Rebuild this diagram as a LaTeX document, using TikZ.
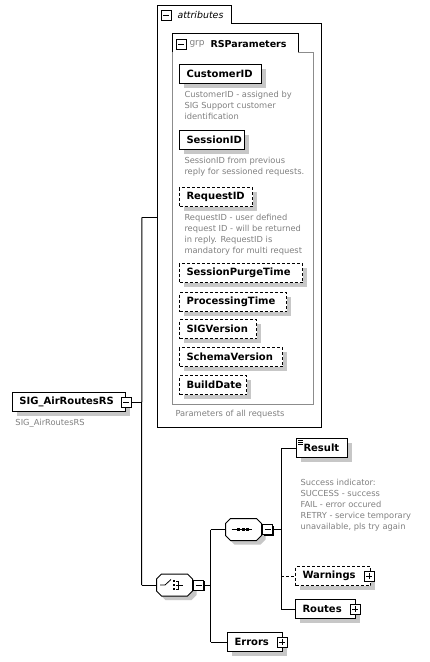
\documentclass[tikz,border=0pt]{standalone}
\usepackage{fontspec}
\setmainfont{DejaVu Sans}
\usetikzlibrary{shadows}
\begin{document}
\begin{tikzpicture}[x=1pt,y=-1pt,line width=1pt,
  elem/.style={draw, line width=1pt, fill=white, font=\bfseries\fontsize{10}{12}\selectfont,
    inner xsep=7pt, inner ysep=0pt, minimum height=19pt, align=left, anchor=north west,
    drop shadow={shadow xshift=4pt,shadow yshift=-4pt,fill=black!22,opacity=1}},
  opt/.style={dash pattern=on 3pt off 2pt},
  desc/.style={font=\fontsize{8.3}{10.8}\selectfont, text=black!50, align=left, anchor=north west, inner sep=0pt},
  pmbox/.style={draw, line width=1pt, fill=white, minimum size=10pt, inner sep=0pt},
  pmshadow/.style={drop shadow={shadow xshift=1pt, shadow yshift=-1pt, fill=black, opacity=1}},
  minusmark/.style={path picture={\draw[line width=1pt] ([xshift=2pt]path picture bounding box.west) -- ([xshift=-2pt]path picture bounding box.east);}},
  plusmark/.style={path picture={\draw[line width=1pt] ([xshift=2pt]path picture bounding box.west) -- ([xshift=-2pt]path picture bounding box.east);
     \draw[line width=1pt] ([yshift=-2pt]path picture bounding box.north) -- ([yshift=2pt]path picture bounding box.south);}},
  octa/.style={draw=none, minimum width=35pt, minimum height=21pt, inner sep=0pt}
]
\def\octpath#1{([xshift=5pt]#1.north west) -- ([xshift=-5pt]#1.north east) -- ([yshift=-5pt]#1.north east) -- ([yshift=5pt]#1.south east) -- ([xshift=-5pt]#1.south east) -- ([xshift=5pt]#1.south west) -- ([yshift=5pt]#1.south west) -- ([yshift=-5pt]#1.north west) -- cycle}
\useasboundingbox[fill=white] (0,0) rectangle (430,662);

% attributes container
\draw (157,5) -- (231,5) -- (231,23) -- (321,23) -- (321,427) -- (157,427) -- cycle;
\node[pmbox, minusmark] (attrpm) at (166,15) {};
\node[anchor=west, inner sep=0pt, font=\itshape\fontsize{9.4}{11}\selectfont] (attrlbl) at (177,14.5) {attributes};

% group container
\draw[black!45] (298,52) -- (313,52) -- (313,404) -- (172,404) -- (172,52);
\draw (172,52) -- (172,33) -- (298,33) -- (298,52);
\node[pmbox, minusmark] (grppm) at (181,44) {};
\node[anchor=west, inner sep=0pt, text=black!50, font=\fontsize{9}{11}\selectfont] (grplbl) at (189,44) {grp};
\node[anchor=west, inner sep=0pt, font=\bfseries\fontsize{9.5}{11}\selectfont] (grpname) at (210,44) {RSParameters};

% attribute elements
\node[elem, text width=68pt] (cust) at (179,64) {CustomerID};
\node[desc] (custd) at (184,91) {CustomerID - assigned by\\SIG Support customer\\identification};
\node[elem, text width=51pt] (sess) at (179,130) {SessionID};
\node[desc] (sessd) at (184,157) {SessionID from previous\\reply for sessioned requests.};
\node[elem, opt, text width=59pt] (req) at (179,187) {RequestID};
\node[desc] (reqd) at (184,214) {RequestID - user defined\\request ID - will be returned\\in reply. RequestID is\\mandatory for multi request};
\node[elem, opt, text width=109pt] (spt) at (179,263) {SessionPurgeTime};
\node[elem, opt, text width=93pt] (proc) at (179,292) {ProcessingTime};
\node[elem, opt, text width=63pt] (sigv) at (179,319) {SIGVersion};
\node[elem, opt, text width=89pt] (schv) at (179,347) {SchemaVersion};
\node[elem, opt, text width=53pt] (bdate) at (179,375) {BuildDate};
\node[desc] (paramd) at (175,410) {Parameters of all requests};

% root
\node[elem, text width=99pt] (root) at (12,392) {SIG\_AirRoutesRS};
\node[pmbox, pmshadow, minusmark] (rootpm) at (root.east) {};
\node[desc] (rootd) at (15,419) {SIG\_AirRoutesRS};

% choice & sequence
\node[octa] (choice) at (174.5,585) {};
\fill[black!22, transform canvas={shift={(4pt,-4pt)}}] \octpath{choice};
\draw[fill=white] \octpath{choice};
\node[pmbox, pmshadow, minusmark, anchor=west] (choicepm) at ([xshift=0.5pt]choice.east) {};
\node[octa] (seq) at (243.5,529.5) {};
\fill[black!22, transform canvas={shift={(4pt,-4pt)}}] \octpath{seq};
\draw[fill=white] \octpath{seq};
\node[pmbox, pmshadow, minusmark, anchor=west] (seqpm) at ([xshift=0.5pt]seq.east) {};

% sequence symbol
\draw[line width=0.8pt] ([xshift=-12pt]seq.center) -- ([xshift=8pt]seq.center);
\foreach \dx in {-5,-0.5,4} {\fill ([xshift=\dx pt-1.5pt, yshift=-1.2pt]seq.center) rectangle ([xshift=\dx pt+1.5pt, yshift=1.2pt]seq.center);}
% choice symbol
\begin{scope}[shift={(choice.center)}, line width=0.8pt]
  \draw (-14.5,0) -- (-9.5,0) -- (-3.5,-5.5);
  \foreach \dy in {-4,0,4} {\fill (-1.8,\dy-1) rectangle (0.4,\dy+1);}
  \draw (1.6,-4) -- (3.8,-4) -- (3.8,4) -- (1.6,4);
  \draw (1.6,0) -- (8,0);
\end{scope}

% sequence children
\node[elem, text width=37pt] (result) at (296,438) {Result};
\draw[line width=0.7pt] ([xshift=2pt,yshift=-2pt]result.north west) -- +(5,0)
  ([xshift=2pt,yshift=-4pt]result.north west) -- +(5,0)
  ([xshift=2pt,yshift=-6pt]result.north west) -- +(5,0);
\node[desc] (resd) at (300,479) {Success indicator:\\SUCCESS - success\\FAIL - error occured\\RETRY - service temporary\\unavailable, pls try again};
\node[elem, opt, text width=61pt] (warn) at (295,566) {Warnings};
\node[pmbox, pmshadow, plusmark] (warnpm) at ([xshift=-2pt]warn.east) {};
\node[elem, text width=46pt] (routes) at (295,599) {Routes};
\node[pmbox, pmshadow, plusmark] (routespm) at ([xshift=-1pt]routes.east) {};
\node[elem, text width=41pt] (errors) at (227,632) {Errors};
\node[pmbox, pmshadow, plusmark] (errorspm) at ([xshift=-1pt]errors.east) {};

% connectors
\coordinate (attrin) at (157,217);
\coordinate (sp1t) at ([xshift=-15pt]attrin);
\coordinate (sp1b) at ([xshift=-15pt]choice.west);
\draw (rootpm.east) -- (rootpm.east -| sp1t);
\draw (sp1t) -- (sp1b);
\draw (sp1t) -- (attrin);
\draw (sp1b) -- (choice.west);

\coordinate (sp2t) at ([xshift=-15pt]seq.west);
\coordinate (sp2b) at (sp2t |- errors.west);
\draw (choicepm.east) -- (choicepm.east -| sp2t);
\draw (sp2t) -- (sp2b);
\draw (sp2t) -- (seq.west);
\draw (sp2b) -- (errors.west);

\coordinate (sp3t) at ([xshift=-15pt]result.west);
\coordinate (sp3b) at (sp3t |- routes.west);
\draw (seqpm.east) -- (seqpm.east -| sp3t);
\draw (sp3t) -- (sp3b);
\draw (sp3t) -- (result.west);
\draw[opt] (sp3t |- warn.west) -- (warn.west);
\draw (sp3b) -- (routes.west);
\end{tikzpicture}
\end{document}
